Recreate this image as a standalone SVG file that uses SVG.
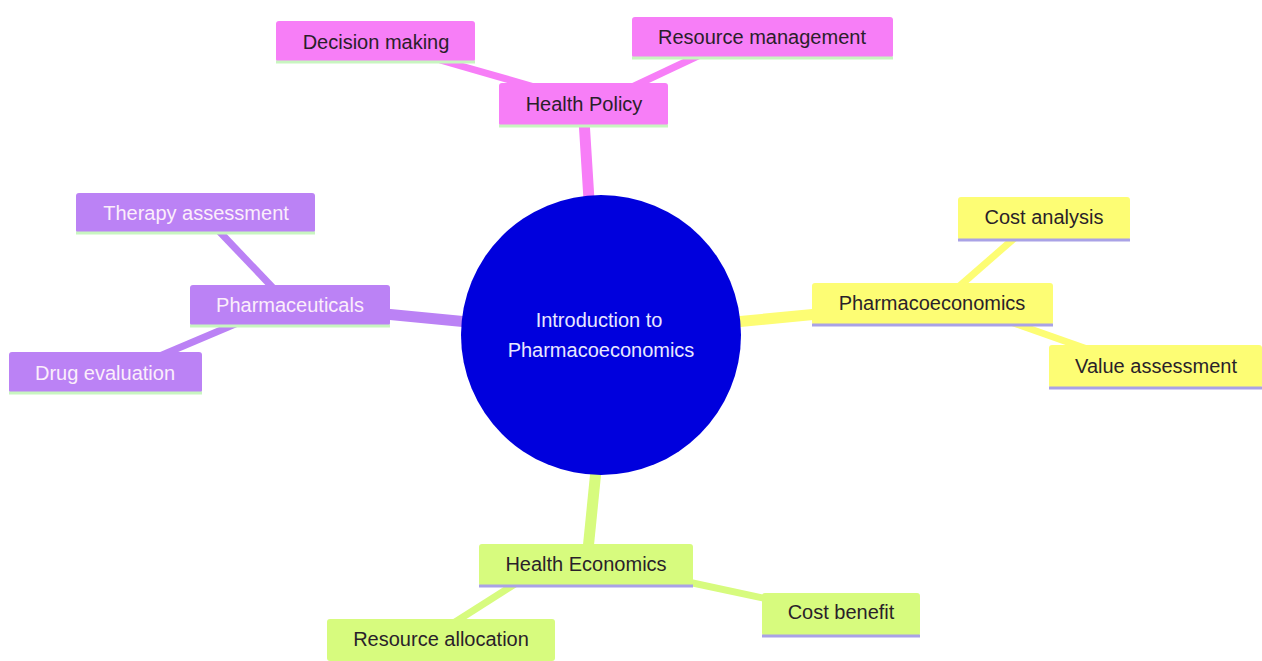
<svg xmlns="http://www.w3.org/2000/svg" width="1262" height="661" viewBox="0 0 1262 661">
<style>
text{font-family:"Liberation Sans",Arial,sans-serif;font-size:20px;text-anchor:middle;dominant-baseline:central}
.pk{fill:#f77ef7}.pu{fill:#bb82f5}.ye{fill:#fdfd74}.gr{fill:#d7fb7e}
.dk{fill:#2a1f2a}.lt{fill:#fbeefb}
.bg{stroke:#c8f5c0;stroke-width:3}.bb{stroke:#a9a2e6;stroke-width:3}
.e{fill:none;stroke-linecap:butt}
</style>
<rect width="1262" height="661" fill="#ffffff"/>
<g id="connectors">
<line class="e" x1="589" y1="200" x2="584" y2="120" stroke="#f77ef7" stroke-width="11"/>
<line class="e" x1="468" y1="322" x2="385" y2="314" stroke="#bb82f5" stroke-width="11"/>
<line class="e" x1="735" y1="322" x2="818" y2="314" stroke="#fdfd74" stroke-width="11"/>
<line class="e" x1="596" y1="470" x2="588" y2="550" stroke="#d7fb7e" stroke-width="11"/>
<line class="e" x1="440" y1="60" x2="545" y2="90" stroke="#f77ef7" stroke-width="7"/>
<line class="e" x1="700" y1="55" x2="630" y2="88" stroke="#f77ef7" stroke-width="7"/>
<line class="e" x1="216" y1="228" x2="275" y2="290" stroke="#bb82f5" stroke-width="7"/>
<line class="e" x1="155" y1="358" x2="240" y2="322" stroke="#bb82f5" stroke-width="7"/>
<line class="e" x1="1018" y1="235" x2="955" y2="290" stroke="#fdfd74" stroke-width="7"/>
<line class="e" x1="1005" y1="320" x2="1090" y2="350" stroke="#fdfd74" stroke-width="7"/>
<line class="e" x1="688" y1="582" x2="772" y2="600" stroke="#d7fb7e" stroke-width="7"/>
<line class="e" x1="515" y1="584" x2="452" y2="624" stroke="#d7fb7e" stroke-width="7"/>
</g>
<g id="root">
<circle cx="601" cy="335" r="140" fill="#0000dd"/>
<text x="599" y="320" fill="#e8e8ff">Introduction to</text>
<text x="601" y="350" fill="#e8e8ff">Pharmacoeconomics</text>
</g>
<g id="health-policy">
<rect class="pk" x="499" y="83" width="169" height="43" rx="3"/>
<line class="bg" x1="499" y1="126" x2="668" y2="126"/>
<text class="dk" x="584" y="104">Health Policy</text>
</g>
<g id="decision-making">
<rect class="pk" x="276" y="21" width="199" height="41" rx="3"/>
<line class="bg" x1="276" y1="62" x2="475" y2="62"/>
<text class="dk" x="376" y="42">Decision making</text>
</g>
<g id="resource-management">
<rect class="pk" x="632" y="17" width="261" height="41" rx="3"/>
<line class="bg" x1="632" y1="58" x2="893" y2="58"/>
<text class="dk" x="762" y="37">Resource management</text>
</g>
<g id="pharmaceuticals">
<rect class="pu" x="190" y="285" width="200" height="41" rx="3"/>
<line class="bg" x1="190" y1="326" x2="390" y2="326"/>
<text class="lt" x="290" y="305">Pharmaceuticals</text>
</g>
<g id="therapy-assessment">
<rect class="pu" x="76" y="193" width="239" height="40" rx="3"/>
<line class="bg" x1="76" y1="233" x2="315" y2="233"/>
<text class="lt" x="196" y="213">Therapy assessment</text>
</g>
<g id="drug-evaluation">
<rect class="pu" x="9" y="352" width="193" height="41" rx="3"/>
<line class="bg" x1="9" y1="393" x2="202" y2="393"/>
<text class="lt" x="105" y="373">Drug evaluation</text>
</g>
<g id="pharmacoeconomics">
<rect class="ye" x="812" y="283" width="241" height="42" rx="3"/>
<line class="bb" x1="812" y1="325" x2="1053" y2="325"/>
<text class="dk" x="932" y="303">Pharmacoeconomics</text>
</g>
<g id="cost-analysis">
<rect class="ye" x="958" y="197" width="172" height="43" rx="3"/>
<line class="bb" x1="958" y1="240" x2="1130" y2="240"/>
<text class="dk" x="1044" y="217">Cost analysis</text>
</g>
<g id="value-assessment">
<rect class="ye" x="1049" y="345" width="213" height="43" rx="3"/>
<line class="bb" x1="1049" y1="388" x2="1262" y2="388"/>
<text class="dk" x="1156" y="366">Value assessment</text>
</g>
<g id="health-economics">
<rect class="gr" x="479" y="544" width="214" height="42" rx="3"/>
<line class="bb" x1="479" y1="586" x2="693" y2="586"/>
<text class="dk" x="586" y="564">Health Economics</text>
</g>
<g id="cost-benefit">
<rect class="gr" x="762" y="593" width="158" height="43" rx="3"/>
<line class="bb" x1="762" y1="636" x2="920" y2="636"/>
<text class="dk" x="841" y="612">Cost benefit</text>
</g>
<g id="resource-allocation">
<rect class="gr" x="327" y="619" width="228" height="42" rx="3"/>
<text class="dk" x="441" y="639">Resource allocation</text>
</g>
</svg>
